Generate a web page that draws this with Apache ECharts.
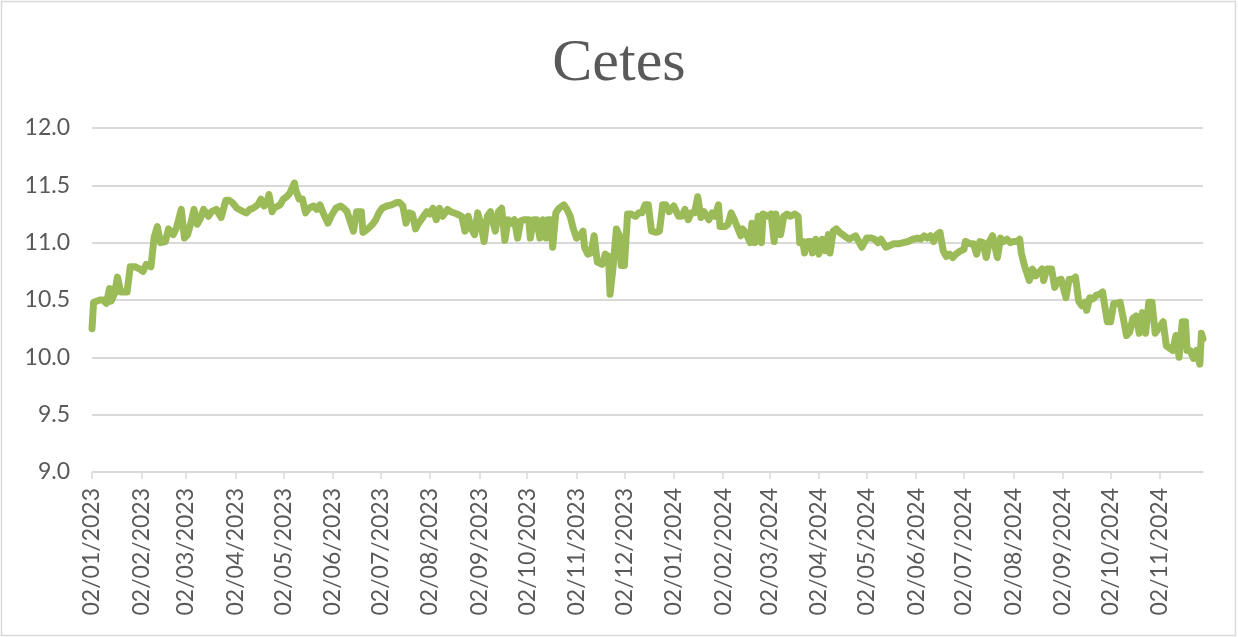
<!DOCTYPE html>
<html>
<head>
<meta charset="utf-8">
<script src="https://cdn.jsdelivr.net/npm/echarts@6/dist/echarts.min.js"></script>
<style>
html,body{margin:0;padding:0;background:#fff;}
#chart{width:1238px;height:637px;}
</style>
</head>
<body>
<div id="chart"></div>
<script>
// Observation dates, as days since 02/01/2023
const startDate = '02/01/2023';
const obsDay = [0,1,5,7,9,11,12,14,16,18,22,24,27,30,32,34,37,39,41,43,46,48,51,53,56,58,60,62,64,66,68,70,73,75,78,81,84,86,88,91,95,97,99,101,104,106,108,110,111,113,114,118,120,122,124,127,128,130,132,134,136,139,141,143,145,148,150,153,156,158,160,164,166,169,170,173,176,178,180,182,185,188,191,193,195,197,199,201,203,205,208,210,212,214,216,218,220,223,225,229,232,234,236,238,240,242,244,246,248,250,253,255,257,259,261,263,265,267,269,271,274,275,277,279,281,283,285,286,288,289,291,293,296,298,300,302,304,306,308,309,311,313,315,317,320,322,324,325,327,329,331,332,334,336,338,341,343,345,347,349,351,354,356,358,360,362,365,368,370,372,374,376,378,380,382,384,387,389,391,393,394,397,399,401,403,405,407,408,410,413,414,416,418,420,421,424,426,428,429,432,434,436,438,441,443,444,446,447,449,451,452,454,456,458,460,462,463,465,467,469,472,475,479,481,483,486,489,491,493,495,498,503,506,509,512,515,518,520,522,524,526,528,530,532,534,536,538,540,542,545,547,548,551,553,555,557,559,561,563,565,568,570,572,574,576,578,580,582,583,585,588,590,592,594,596,597,599,602,604,606,608,611,613,615,617,619,621,623,624,626,628,630,632,634,635,637,639,641,643,645,647,649,651,653,655,657,659,661,663,665,667,669,672,674,676,678,680,682,684,686,687,689,691,693,695,696,697];
// Cetes rate (%)
const rates = [10.25,10.48,10.50,10.50,10.47,10.60,10.49,10.55,10.70,10.57,10.57,10.79,10.79,10.77,10.75,10.81,10.79,11.05,11.14,11.00,11.01,11.12,11.07,11.13,11.29,11.04,11.07,11.17,11.29,11.16,11.21,11.29,11.23,11.27,11.29,11.22,11.37,11.37,11.35,11.30,11.27,11.26,11.29,11.30,11.33,11.38,11.32,11.36,11.42,11.27,11.30,11.33,11.38,11.40,11.43,11.52,11.45,11.38,11.38,11.26,11.30,11.32,11.29,11.33,11.26,11.17,11.23,11.30,11.32,11.30,11.27,11.10,11.27,11.27,11.09,11.12,11.16,11.20,11.26,11.30,11.32,11.33,11.35,11.35,11.32,11.17,11.26,11.25,11.12,11.17,11.23,11.27,11.25,11.30,11.20,11.30,11.23,11.29,11.27,11.25,11.23,11.10,11.23,11.12,11.07,11.26,11.16,11.01,11.23,11.27,11.10,11.27,11.30,11.02,11.20,11.17,11.20,11.04,11.19,11.20,11.20,11.04,11.20,11.20,11.04,11.20,11.04,11.20,11.20,10.96,11.26,11.30,11.33,11.29,11.23,11.12,11.04,11.06,11.10,10.96,10.90,10.91,11.06,10.83,10.81,10.90,10.88,10.55,10.80,11.12,11.06,10.80,10.80,11.25,11.25,11.23,11.26,11.26,11.33,11.33,11.10,11.09,11.10,11.33,11.33,11.27,11.32,11.23,11.23,11.29,11.20,11.26,11.26,11.40,11.22,11.27,11.20,11.26,11.23,11.33,11.14,11.14,11.16,11.26,11.20,11.13,11.06,11.12,11.09,11.00,11.17,11.00,11.23,11.00,11.25,11.23,11.25,11.01,11.25,11.07,11.23,11.25,11.23,11.25,11.23,11.00,11.01,10.91,11.01,11.01,10.91,11.03,10.90,11.03,10.93,11.07,10.91,11.10,11.12,11.09,11.06,11.03,11.06,11.01,10.96,11.04,11.04,11.03,11.00,11.03,10.96,10.99,10.99,11.00,11.01,11.03,11.04,11.03,11.06,11.04,11.06,11.01,11.07,11.09,10.93,10.88,10.90,10.87,10.90,10.93,10.94,11.01,10.99,10.99,10.90,11.01,11.00,10.87,11.01,11.06,10.87,11.04,11.01,11.03,11.00,11.01,11.01,11.03,10.91,10.80,10.67,10.77,10.71,10.74,10.77,10.67,10.77,10.77,10.61,10.67,10.68,10.52,10.68,10.68,10.70,10.49,10.45,10.48,10.41,10.52,10.51,10.54,10.55,10.57,10.48,10.31,10.31,10.47,10.47,10.48,10.34,10.19,10.22,10.34,10.36,10.21,10.39,10.21,10.48,10.48,10.21,10.25,10.31,10.10,10.08,10.06,10.19,10.00,10.31,10.31,10.06,10.06,9.99,10.06,9.94,10.21,10.16];
const tickLabels = ['02/01/2023','02/02/2023','02/03/2023','02/04/2023','02/05/2023','02/06/2023','02/07/2023','02/08/2023','02/09/2023','02/10/2023','02/11/2023','02/12/2023','02/01/2024','02/02/2024','02/03/2024','02/04/2024','02/05/2024','02/06/2024','02/07/2024','02/08/2024','02/09/2024','02/10/2024','02/11/2024'];
const lastDay = 697;
const yTicks = {min: 9, max: 12, step: 0.5};

function dayOf(s){
  const p = s.split('/');
  const t = Date.UTC(+p[2], +p[1]-1, +p[0]);
  const p0 = startDate.split('/');
  const t0 = Date.UTC(+p0[2], +p0[1]-1, +p0[0]);
  return Math.round((t - t0) / 86400000);
}
const tickPos = tickLabels.map(dayOf);
const labelAt = {};
tickPos.forEach((d,i)=>{ labelAt[d] = tickLabels[i]; });
const seriesData = obsDay.map((d,i)=>[d, rates[i]]);

const chart = echarts.init(document.getElementById('chart'), null, {renderer:'canvas'});
const txt = '#595959';
const grid = '#d9d9d9';
chart.setOption({
  animation: false,
  backgroundColor: '#ffffff',
  title: {
    text: 'Cetes',
    left: 'center',
    top: 34,
    padding: 0,
    textStyle: {fontFamily: 'Liberation Serif', fontSize: 60, fontWeight: 'normal', color: txt}
  },
  graphic: [{
    type: 'rect',
    shape: {x: 1.5, y: 1.5, width: 1234, height: 634},
    style: {fill: 'none', stroke: '#d9d9d9', lineWidth: 1.5},
    silent: true, z: -1
  }],
  grid: {left: 92, right: 35, top: 128, bottom: 165, containLabel: false},
  xAxis: {
    type: 'value',
    min: 0,
    max: lastDay,
    splitLine: {show: false},
    axisLine: {show: true, lineStyle: {color: grid, width: 1.5}},
    axisTick: {show: true, customValues: tickPos, length: 7, lineStyle: {color: grid, width: 1.5}},
    axisLabel: {
      customValues: tickPos,
      rotate: 90,
      margin: 16,
      color: txt,
      fontFamily: 'Lato',
      fontSize: 23,
      formatter: v => labelAt[v] || ''
    }
  },
  yAxis: {
    type: 'value',
    min: yTicks.min,
    max: yTicks.max,
    interval: yTicks.step,
    axisLine: {show: false},
    axisTick: {show: false},
    splitLine: {show: true, lineStyle: {color: grid, width: 2}},
    axisLabel: {
      color: txt,
      fontFamily: 'Lato',
      fontSize: 23,
      margin: 22,
      formatter: v => v.toFixed(1)
    }
  },
  series: [{
    type: 'line',
    data: seriesData,
    showSymbol: false,
    symbol: 'none',
    lineStyle: {color: '#9BBB59', width: 7, cap: 'round', join: 'round'},
    z: 3
  }]
});
</script>
</body>
</html>
